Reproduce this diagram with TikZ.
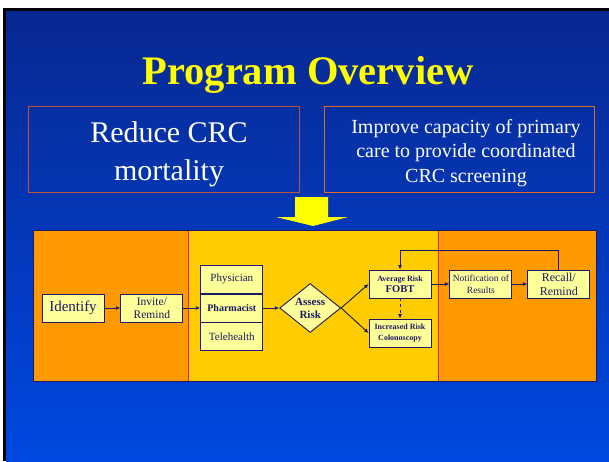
\documentclass[tikz,border=0pt]{standalone}
\usepackage{fontspec}
\setmainfont{Liberation Serif}
\usepackage{xcolor}
\usetikzlibrary{shapes.geometric,arrows.meta,positioning,calc}

\definecolor{slideTop}{RGB}{8,40,145}
\definecolor{slideBot}{RGB}{0,72,225}
\definecolor{panelOrange}{RGB}{255,153,0}
\definecolor{panelGold}{RGB}{255,204,0}
\definecolor{boxFill}{RGB}{255,255,153}
\definecolor{navy}{RGB}{25,25,100}
\definecolor{goalEdgeA}{RGB}{185,85,60}
\definecolor{goalEdgeB}{RGB}{225,105,40}
\definecolor{divRed}{RGB}{235,30,30}
\definecolor{titleYellow}{RGB}{255,255,0}

\newcommand{\fs}[2]{\fontsize{#1}{#2}\selectfont}

\begin{document}
\begin{tikzpicture}[x=1pt,y=-1pt,
    flowbox/.style={draw=navy, line width=0.9pt, fill=boxFill, text=navy,
        minimum width=62pt, minimum height=28pt, inner sep=0.5pt, align=center},
    flow/.style={draw=navy, line width=0.9pt, -{Latex[length=4.5pt,width=4pt]}},
    goal/.style={text=white, align=center, inner sep=0pt}]
    \useasboundingbox (0,0) rectangle (609,461);

    % slide background
    \fill[white] (0,0) rectangle (609,461);
    \fill[black] (3,8) rectangle (609,461);
    \shade[top color=slideTop, bottom color=slideBot] (6,11) rectangle (609,461);

    % Title
    \node[anchor=base, text=titleYellow, font=\bfseries\fs{40.5}{44}] (title) at (308,84) {Program Overview};

    % Goals
    \draw[goalEdgeA, line width=0.8pt] (28,106) rectangle (299,192);
    \draw[goalEdgeB, line width=0.8pt] (324,106) rectangle (594,192);
    \node[goal, font=\fs{30}{38}] (reduce) at (169,154) {Reduce CRC\\mortality};
    \node[goal, font=\fs{20}{24.5}] (improve) at (466,153) {Improve capacity of primary\\care to provide coordinated\\CRC screening};

    % big arrow down
    \fill[titleYellow] (295,197) -- (328,197) -- (328,217) -- (348,217) -- (313,226)
        -- (276,217) -- (295,217) -- cycle;

    % Panel
    \fill[panelOrange] (33,230) rectangle (188,381);
    \fill[panelGold] (188,230) rectangle (438,381);
    \fill[panelOrange] (438,230) rectangle (596,381);
    \draw[divRed, line width=0.8pt] (188,230) -- (188,381);
    \draw[divRed, line width=0.8pt] (438,230) -- (438,381);
    \draw[navy, line width=0.9pt] (33,230) rectangle (596,381);

    % Flow
    \node[flowbox, font=\fs{15}{17}] (identify) at (73,308) {Identify};
    \node[flowbox, font=\fs{11.5}{13}, right=16pt of identify] (invite) {Invite/\\Remind};
    \node[flowbox, font=\bfseries\fs{10}{12}, right=17pt of invite] (pharm) {Pharmacist};
    \node[flowbox, font=\fs{11}{13}, above=0pt of pharm] (phys) {Physician};
    \node[flowbox, font=\fs{11}{13}, below=0pt of pharm] (tele) {Telehealth};
    \node[diamond, draw=navy, line width=0.9pt, fill=boxFill, text=navy, aspect=1.25,
        inner sep=0pt, minimum width=61pt, minimum height=49pt, align=center,
        font=\bfseries\fs{11}{13}, right=16pt of pharm] (assess) {Assess\\Risk};
    \node[flowbox, font=\bfseries\fs{8}{11}] (avg) at (400,284) {Average Risk\\{\fs{10.5}{12}FOBT}};
    \node[flowbox, font=\bfseries\fs{8}{11}] (inc) at (400,333) {Increased Risk\\Colonoscopy};
    \node[flowbox, font=\fs{9.5}{12}, right=18pt of avg] (notif) {Notification of\\Results};
    \node[flowbox, font=\fs{12}{14}, right=15pt of notif] (recall) {Recall/\\Remind};
    \coordinate (loop) at ($(recall.north)+(0,-19)$);

    \draw[flow] (identify) -- (invite);
    \draw[flow] (invite.east) -- (invite.east -| pharm.west);
    \draw[flow] (pharm) -- (assess);
    \draw[flow] (assess.east) -- (avg.west);
    \draw[flow] (assess.east) -- (inc.west);
    \draw[flow, dashed] (avg) -- (inc);
    \draw[flow] (avg) -- (notif);
    \draw[flow] (notif) -- (recall);
    \draw[flow] (recall.north) -- (loop) -| (avg.north);
\end{tikzpicture}
\end{document}
